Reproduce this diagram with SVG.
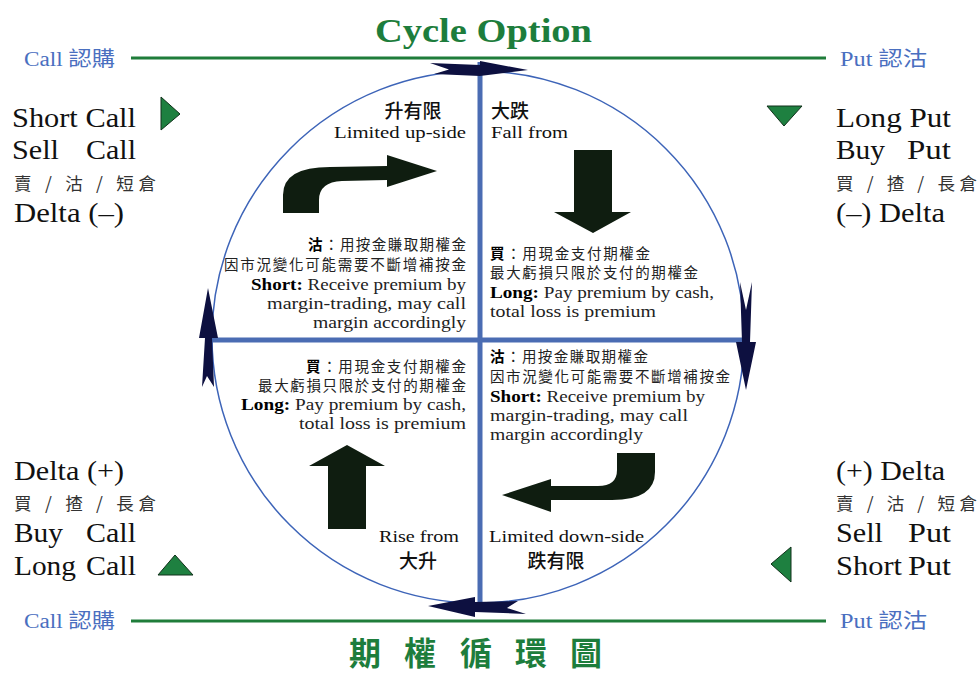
<svg xmlns="http://www.w3.org/2000/svg" width="978" height="673" viewBox="0 0 978 673">
<defs>
<style>
.title{font-family:"Liberation Serif","DejaVu Serif",serif;font-weight:bold;fill:#1d7d3c}
.cjkt{font-family:"Noto Sans CJK TC","Noto Sans CJK SC",sans-serif;font-weight:bold;fill:#1d7d3c}
.side{font-family:"Liberation Serif","Noto Sans CJK TC",serif;fill:#4a6fc0;font-size:20px}
.big{font-family:"Liberation Serif","DejaVu Serif",serif;fill:#111;font-size:27px}
.cj{font-family:"Noto Sans CJK TC","Noto Sans CJK SC",sans-serif;fill:#333;font-size:17.5px}
.lab{font-family:"Noto Sans CJK TC","Noto Sans CJK SC",sans-serif;fill:#111;font-size:19px;font-weight:500}
.en{font-family:"Liberation Serif","DejaVu Serif",serif;fill:#111;font-size:16.5px}
.blk{font-family:"Liberation Serif","Noto Sans CJK TC",serif;fill:#222;font-size:16px}
.blkc{font-family:"Noto Sans CJK TC","Noto Sans CJK SC",sans-serif;fill:#222;font-size:14.5px}
.b{font-weight:bold;fill:#000}
.gl{stroke:#1f7d3a;stroke-width:3;fill:none}
.tri{fill:#1e8040;stroke:#10301a;stroke-width:1}
.fat{fill:#0f1d10}
.nav{fill:#0d1040}
</style>
</defs>
<rect width="978" height="673" fill="#ffffff"/>

<g id="title">
<text class="title" x="375" y="42" font-size="34" textLength="217" lengthAdjust="spacingAndGlyphs">Cycle Option</text>
</g>
<g id="title-cn">
<text class="cjkt" font-size="32" y="665" text-anchor="middle"><tspan x="365">期</tspan><tspan x="420">權</tspan><tspan x="476">循</tspan><tspan x="531">環</tspan><tspan x="586">圖</tspan></text>
</g>

<g id="green-lines">
<line class="gl" x1="131" y1="58" x2="826" y2="58"/>
<line class="gl" x1="131" y1="621" x2="826" y2="621"/>
</g>

<g id="side-labels">
<text class="side" x="24" y="66" textLength="91" lengthAdjust="spacingAndGlyphs">Call 認購</text>
<text class="side" x="840" y="66" textLength="87" lengthAdjust="spacingAndGlyphs">Put 認沽</text>
<text class="side" x="24" y="628" textLength="91" lengthAdjust="spacingAndGlyphs">Call 認購</text>
<text class="side" x="840" y="628" textLength="87" lengthAdjust="spacingAndGlyphs">Put 認沽</text>
</g>

<g id="short-call">
<text class="big" x="12" y="127" textLength="124" lengthAdjust="spacingAndGlyphs">Short Call</text>
<text class="big" x="12" y="159" textLength="47" lengthAdjust="spacingAndGlyphs">Sell</text>
<text class="big" x="86" y="159" textLength="50" lengthAdjust="spacingAndGlyphs">Call</text>
<text class="cj" x="14" y="190" textLength="142" lengthAdjust="spacing">賣 / 沽 / 短倉</text>
<text class="big" x="14" y="222" textLength="110" lengthAdjust="spacingAndGlyphs">Delta (–)</text>
<polygon class="tri" points="161,97 180,114 161,130"/>
</g>

<g id="long-put">
<text class="big" x="836" y="127" textLength="115" lengthAdjust="spacingAndGlyphs">Long Put</text>
<text class="big" x="836" y="159" textLength="49" lengthAdjust="spacingAndGlyphs">Buy</text>
<text class="big" x="907" y="159" textLength="44" lengthAdjust="spacingAndGlyphs">Put</text>
<text class="cj" x="836" y="190" textLength="141" lengthAdjust="spacing">買 / 揸 / 長倉</text>
<text class="big" x="836" y="222" textLength="109" lengthAdjust="spacingAndGlyphs">(–) Delta</text>
<polygon class="tri" points="767,106 802,106 784,126"/>
</g>

<g id="long-call">
<text class="big" x="14" y="480" textLength="110" lengthAdjust="spacingAndGlyphs">Delta (+)</text>
<text class="cj" x="14" y="510" textLength="142" lengthAdjust="spacing">買 / 揸 / 長倉</text>
<text class="big" x="14" y="542" textLength="49" lengthAdjust="spacingAndGlyphs">Buy</text>
<text class="big" x="86" y="542" textLength="50" lengthAdjust="spacingAndGlyphs">Call</text>
<text class="big" x="14" y="575" textLength="62" lengthAdjust="spacingAndGlyphs">Long</text>
<text class="big" x="86" y="575" textLength="50" lengthAdjust="spacingAndGlyphs">Call</text>
<polygon class="tri" points="158,575 193,575 175,555"/>
</g>

<g id="short-put">
<text class="big" x="836" y="480" textLength="109" lengthAdjust="spacingAndGlyphs">(+) Delta</text>
<text class="cj" x="836" y="510" textLength="141" lengthAdjust="spacing">賣 / 沽 / 短倉</text>
<text class="big" x="836" y="542" textLength="47" lengthAdjust="spacingAndGlyphs">Sell</text>
<text class="big" x="908" y="542" textLength="43" lengthAdjust="spacingAndGlyphs">Put</text>
<text class="big" x="836" y="575" textLength="66" lengthAdjust="spacingAndGlyphs">Short</text>
<text class="big" x="908" y="575" textLength="43" lengthAdjust="spacingAndGlyphs">Put</text>
<polygon class="tri" points="791,547 791,582 771,564"/>
</g>

<g id="connectors">
<circle cx="478" cy="337" r="266" fill="none" stroke="#3d64b8" stroke-width="1.5"/>
<line x1="480" y1="62" x2="480" y2="606" stroke="#4a6cb3" stroke-width="5"/>
<line x1="212" y1="340" x2="745" y2="340" stroke="#4a6cb3" stroke-width="5"/>
<polygon class="nav" points="528,70 480,61 480,65 430,63 449,69.5 434,74 480,76"/>
<polygon class="nav" points="740,282 746,310 752,282 750,342 756,342 746,390 736,342 742,342"/>
<polygon class="nav" points="428,606 475,597 475,602 518,601 507,608 526,614 475,612 475,617"/>
<polygon class="nav" points="208,288 218,338 212,338 214,387 207,376 202,387 205,338 199,338"/>
</g>

<g id="q-limited-up">
<text class="lab" x="413" y="118" text-anchor="middle">升有限</text>
<text class="en" x="466" y="138" text-anchor="end" textLength="132" lengthAdjust="spacingAndGlyphs">Limited up-side</text>
<path class="fat" d="M283,213 L283,195 Q283,167 330,167 L387,166 L387,155 L437,171 L387,187 L387,180 L342,181 Q319,182 319,200 L319,213 Z"/>
</g>

<g id="q-fall">
<text class="lab" x="510" y="118" text-anchor="middle">大跌</text>
<text class="en" x="491" y="138" textLength="77" lengthAdjust="spacingAndGlyphs">Fall from</text>
<path class="fat" d="M574,150 L612,150 L612,212 L631,212 L593,233 L554,212 L574,212 Z"/>
</g>

<g id="q-rise">
<path class="fat" d="M328,529 L366,529 L366,466 L385,466 L347,445 L309,466 L328,466 Z"/>
<text class="en" x="459" y="542" text-anchor="end" textLength="80" lengthAdjust="spacingAndGlyphs">Rise from</text>
<text class="lab" x="418" y="568" text-anchor="middle">大升</text>
</g>

<g id="q-limited-down">
<path class="fat" d="M617,453 L655,453 L655,472 Q655,500 612,500 L551,500 L551,512 L502,495 L551,479 L551,486 L598,486 Q617,486 617,470 Z"/>
<text class="en" x="489" y="542" textLength="155" lengthAdjust="spacingAndGlyphs">Limited down-side</text>
<text class="lab" x="556" y="568" text-anchor="middle">跌有限</text>
</g>

<g id="block-short-tl">
<text class="blkc" x="308" y="250" textLength="158" lengthAdjust="spacing"><tspan class="b">沽</tspan>：用按金賺取期權金</text>
<text class="blkc" x="224" y="270" textLength="242" lengthAdjust="spacing">因市況變化可能需要不斷增補按金</text>
<text class="blk" x="251" y="290" textLength="215" lengthAdjust="spacingAndGlyphs"><tspan class="b">Short:</tspan> Receive premium by</text>
<text class="blk" x="267" y="309" textLength="199" lengthAdjust="spacingAndGlyphs">margin-trading, may call</text>
<text class="blk" x="313" y="328" textLength="153" lengthAdjust="spacingAndGlyphs">margin accordingly</text>
</g>

<g id="block-long-tr">
<text class="blkc" x="490" y="259" textLength="160" lengthAdjust="spacing"><tspan class="b">買</tspan>：用現金支付期權金</text>
<text class="blkc" x="490" y="278" textLength="208" lengthAdjust="spacing">最大虧損只限於支付的期權金</text>
<text class="blk" x="490" y="298" textLength="224" lengthAdjust="spacingAndGlyphs"><tspan class="b">Long:</tspan> Pay premium by cash,</text>
<text class="blk" x="490" y="317" textLength="166" lengthAdjust="spacingAndGlyphs">total loss is premium</text>
</g>

<g id="block-long-bl">
<text class="blkc" x="306" y="372" textLength="160" lengthAdjust="spacing"><tspan class="b">買</tspan>：用現金支付期權金</text>
<text class="blkc" x="258" y="391" textLength="208" lengthAdjust="spacing">最大虧損只限於支付的期權金</text>
<text class="blk" x="241" y="410" textLength="225" lengthAdjust="spacingAndGlyphs"><tspan class="b">Long:</tspan> Pay premium by cash,</text>
<text class="blk" x="299" y="429" textLength="167" lengthAdjust="spacingAndGlyphs">total loss is premium</text>
</g>

<g id="block-short-br">
<text class="blkc" x="490" y="362" textLength="158" lengthAdjust="spacing"><tspan class="b">沽</tspan>：用按金賺取期權金</text>
<text class="blkc" x="490" y="382" textLength="240" lengthAdjust="spacing">因市況變化可能需要不斷增補按金</text>
<text class="blk" x="490" y="402" textLength="215" lengthAdjust="spacingAndGlyphs"><tspan class="b">Short:</tspan> Receive premium by</text>
<text class="blk" x="490" y="421" textLength="198" lengthAdjust="spacingAndGlyphs">margin-trading, may call</text>
<text class="blk" x="490" y="440" textLength="153" lengthAdjust="spacingAndGlyphs">margin accordingly</text>
</g>
</svg>
